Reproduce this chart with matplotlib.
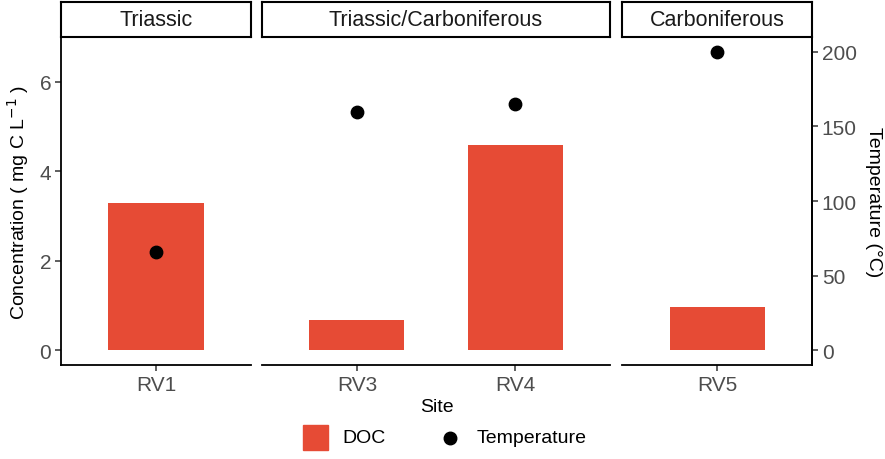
import matplotlib
matplotlib.use('Agg')
import matplotlib.pyplot as plt
from matplotlib.patches import Rectangle
from matplotlib.lines import Line2D

plt.rcParams['font.family'] = ['Liberation Sans', 'DejaVu Sans']

# data
groups = ['Triassic', 'Triassic/Carboniferous', 'Carboniferous']
sites = [['RV1'], ['RV3', 'RV4'], ['RV5']]
doc = [[3.28], [0.68, 4.58], [0.97]]
temp = [[66], [160, 165], [200]]
scale = 30.0  # temperature / scale -> concentration axis

bar_col = '#E64B35'
tick_col = '#4D4D4D'
W, H = 885, 460

fig = plt.figure(figsize=(W / 100, H / 100), dpi=100)

# panel pixel extents (left, right)
panels = [(61, 251), (262, 610), (622, 812)]
top_px, bot_px = 38, 366
strip_top = 3
ylo, yhi = -0.333, 7.0

for i, (l, r) in enumerate(panels):
    ax = fig.add_axes([l / W, 1 - bot_px / H, (r - l) / W, (bot_px - top_px) / H])
    n = len(sites[i])
    xs = list(range(1, n + 1))
    ax.bar(xs, doc[i], width=0.6, color=bar_col, zorder=2)
    ax.scatter(xs, [t / scale for t in temp[i]], s=80, color='black', zorder=3)
    ax.set_xlim(0.4, n + 0.6)
    ax.set_ylim(ylo, yhi)
    ax.set_xticks(xs)
    ax.set_xticklabels(sites[i], fontsize=15, color=tick_col)
    for s in ['top', 'right', 'left']:
        ax.spines[s].set_visible(False)
    ax.spines['bottom'].set_linewidth(1.3)
    ax.tick_params(axis='x', length=4, width=1.1, color='#333333', pad=3)
    if i == 0:
        ax.spines['left'].set_visible(True)
        ax.spines['left'].set_linewidth(1.3)
        ax.set_yticks([0, 2, 4, 6])
        ax.tick_params(axis='y', length=4, width=1.1, color='#333333',
                       labelsize=15, labelcolor=tick_col, pad=3)
        ax.set_ylabel('Concentration ( mg C L$^{-1}$ )', fontsize=14, labelpad=6)
    else:
        ax.set_yticks([])
    if i == 2:
        ax.spines['right'].set_visible(True)
        ax.spines['right'].set_linewidth(1.3)
        ax2 = ax.twinx()
        ax2.set_ylim(ylo * scale, yhi * scale)
        ax2.set_yticks([0, 50, 100, 150, 200])
        for s in ['top', 'left', 'bottom']:
            ax2.spines[s].set_visible(False)
        ax2.spines['right'].set_linewidth(1.3)
        ax2.tick_params(axis='y', length=4, width=1.1, color='#333333',
                        labelsize=15, labelcolor=tick_col, pad=3)
        ax2.set_ylabel('Temperature (\u00b0C)', fontsize=14, rotation=-90, labelpad=18)

    # strip
    sax = fig.add_axes([l / W, 1 - top_px / H, (r - l) / W, (top_px - strip_top) / H])
    sax.set_xticks([])
    sax.set_yticks([])
    for s in sax.spines.values():
        s.set_linewidth(1.5)
    sax.text(0.5, 0.5, groups[i], ha='center', va='center', fontsize=15.5,
             transform=sax.transAxes, color='#1A1A1A')

fig.text(437 / W, 1 - 408 / H, 'Site', ha='center', va='center', fontsize=14)

# legend
fig.patches.append(Rectangle((303 / W, 1 - 451 / H), 25 / W, 25 / H,
                             transform=fig.transFigure, color=bar_col))
fig.text(342 / W, 1 - 439 / H, 'DOC', va='center', fontsize=14)
fig.lines.append(Line2D([450 / W], [1 - 439 / H], marker='o', markersize=9,
                        color='black', transform=fig.transFigure))
fig.text(477 / W, 1 - 439 / H, 'Temperature', va='center', fontsize=14)

fig.savefig('out.png', dpi=100)
